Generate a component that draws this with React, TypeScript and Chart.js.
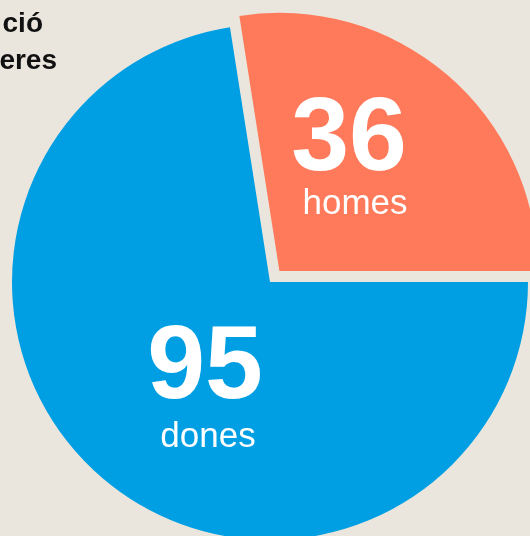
import React, { useEffect, useRef } from "react";
import { Chart, registerables } from "chart.js";

Chart.register(...registerables);

const categories = ["homes", "dones"];
const values = [36, 95];
const titleLines = ["ció", "eres"];

const BG = "#EBE6DD";
const COLORS = ["#FF7A5A", "#009FE3"];
const FONT = '"Liberation Sans", Arial, sans-serif';

const labelsPlugin = {
  id: "pieLabels",
  afterDatasetsDraw(chart: any) {
    const ctx = chart.ctx as CanvasRenderingContext2D;
    ctx.save();
    // title (cropped at left in the reference)
    ctx.fillStyle = "#111111";
    ctx.textAlign = "right";
    ctx.textBaseline = "alphabetic";
    ctx.font = `bold 28px ${FONT}`;
    ctx.fillText(titleLines[0], 43, 32);
    ctx.fillText(titleLines[1], 57, 69);

    // value labels
    ctx.fillStyle = "#ffffff";
    ctx.textAlign = "center";
    const pos = [
      { nx: 349, ny: 170, tx: 355, ty: 214 },
      { nx: 205, ny: 398, tx: 208, ty: 447 },
    ];
    values.forEach((v, i) => {
      ctx.font = `bold 104px ${FONT}`;
      ctx.fillText(String(v), pos[i].nx, pos[i].ny);
      ctx.font = `35px ${FONT}`;
      ctx.fillText(categories[i], pos[i].tx, pos[i].ty);
    });
    ctx.restore();
  },
};

export default function App() {
  const ref = useRef<HTMLCanvasElement | null>(null);

  useEffect(() => {
    document.body.style.margin = "0";
    document.body.style.background = BG;
    const total = values.reduce((a, b) => a + b, 0);
    const rotation = 90 - (360 * values[0]) / total;
    const chart = new Chart(ref.current as HTMLCanvasElement, {
      type: "pie",
      data: {
        labels: categories,
        datasets: [
          {
            data: values,
            backgroundColor: COLORS,
            borderWidth: 0,
            offset: [58, 0],
            hoverOffset: 0,
            clip: false as any,
          },
        ],
      },
      options: {
        responsive: false,
        animation: false,
        rotation,
        radius: 258,
        layout: { padding: { left: 10, top: 28, right: 0, bottom: 0 } },
        plugins: {
          legend: { display: false },
          tooltip: { enabled: false },
        },
        events: [],
      },
      plugins: [labelsPlugin],
    });
    return () => chart.destroy();
  }, []);

  return (
    <div
      style={{
        position: "absolute",
        left: 0,
        top: 0,
        width: 530,
        height: 536,
        background: BG,
        overflow: "hidden",
      }}
    >
      <canvas ref={ref} width={530} height={536} style={{ display: "block" }} />
    </div>
  );
}
